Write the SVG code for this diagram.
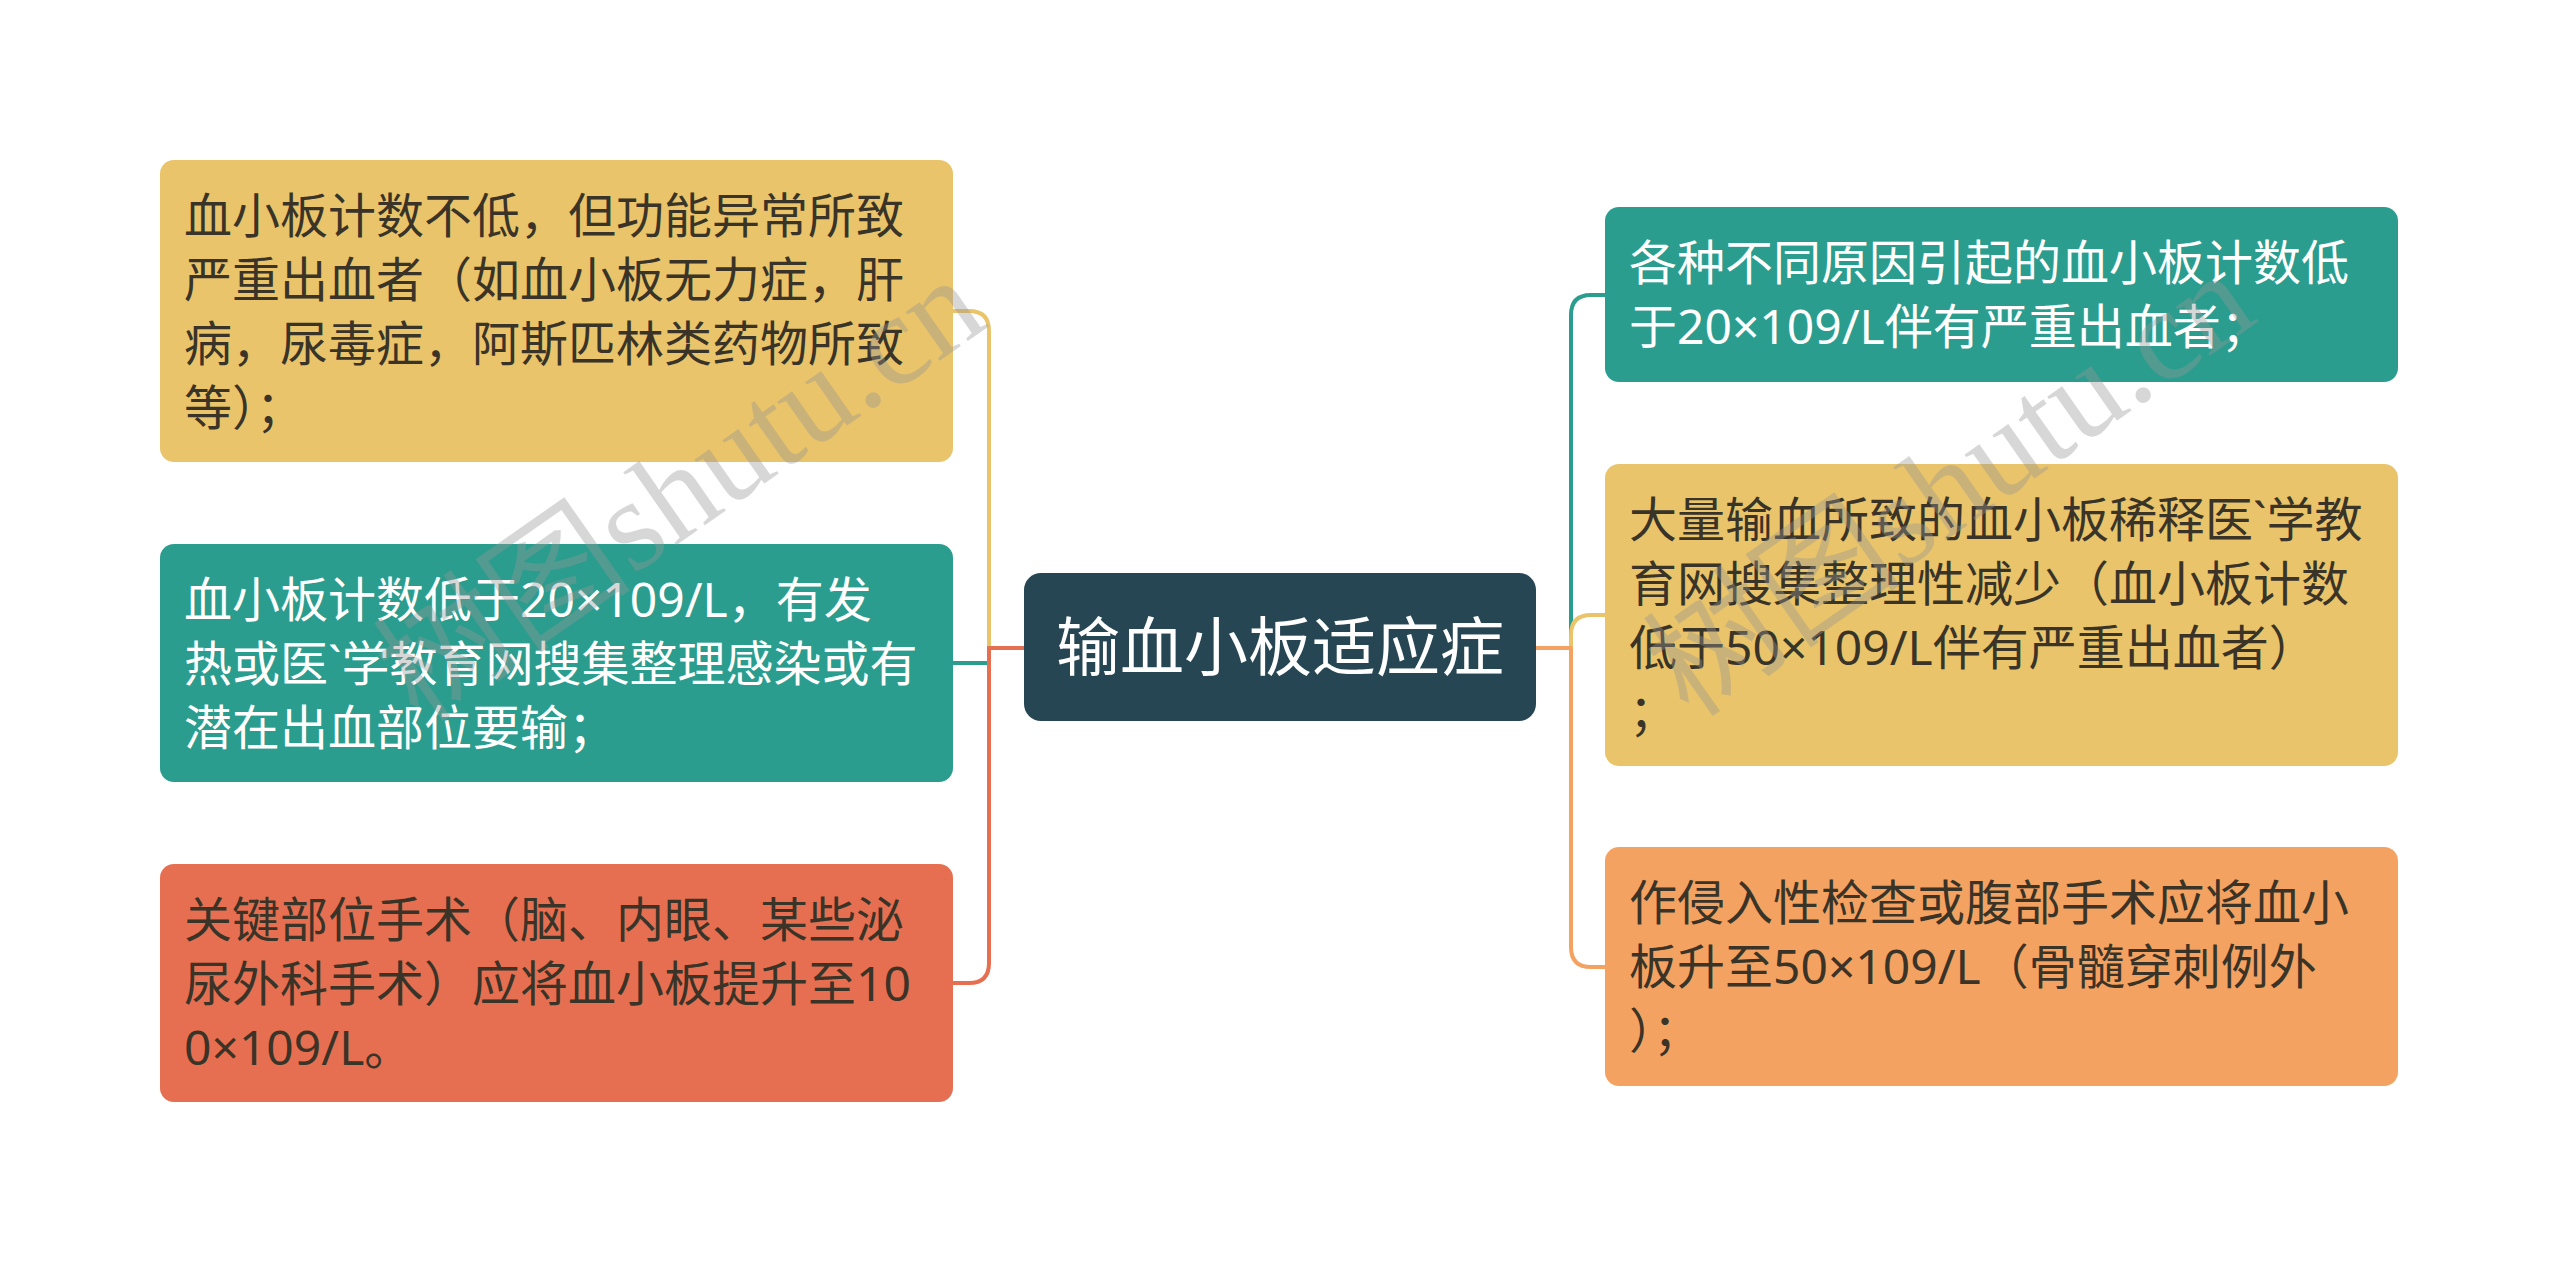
<svg xmlns="http://www.w3.org/2000/svg" width="2560" height="1264" viewBox="0 0 2560 1264">
<style>
.t{font-family:"Noto Sans","Noto Sans CJK SC","Liberation Sans",sans-serif;font-size:48px;}
.dk{fill:#3a3428;}
.wh{fill:#ffffff;}
.ct{font-family:"Noto Sans CJK SC","Liberation Sans",sans-serif;font-size:64px;fill:#ffffff;}
.c{fill:none;stroke-width:4;stroke-linejoin:round;}
.wm{font-family:"Liberation Serif","Noto Sans CJK SC",serif;font-size:130px;fill:#969696;fill-opacity:0.38;}
</style>
<rect width="2560" height="1264" fill="#ffffff"/>
<g id="connectors">
<path class="c" stroke="#E9C46A" d="M1024,648 H989 V331 Q989,311 969,311 H953"/>
<path class="c" stroke="#2A9D8F" d="M1024,648 H989 V663 H953"/>
<path class="c" stroke="#E76F51" d="M1024,648 H989 V963 Q989,983 969,983 H953"/>
<path class="c" stroke="#2A9D8F" d="M1536,648 H1571 V315 Q1571,295 1591,295 H1605"/>
<path class="c" stroke="#E9C46A" d="M1536,648 H1571 V635 Q1571,615 1591,615 H1605"/>
<path class="c" stroke="#F4A261" d="M1536,648 H1571 V947 Q1571,967 1591,967 H1605"/>
</g>
<g id="center">
<rect x="1024" y="573" width="512" height="148" rx="17" fill="#264653"/>
<text class="ct" x="1280" y="670" text-anchor="middle">输血小板适应症</text>
</g>
<g id="L1">
<rect x="160" y="160" width="793" height="302" rx="14" fill="#E9C46A"/>
<text class="t dk"><tspan x="184" y="233">血小板计数不低，但功能异常所致</tspan><tspan x="184" y="297">严重出血者（如血小板无力症，肝</tspan><tspan x="184" y="361">病，尿毒症，阿斯匹林类药物所致</tspan><tspan x="184" y="425">等）；</tspan></text>
</g>
<g id="L2">
<rect x="160" y="544" width="793" height="238" rx="14" fill="#2A9D8F"/>
<text class="t wh"><tspan x="184" y="617">血小板计数低于20×109/L，有发</tspan><tspan x="184" y="681">热或医`学教育网搜集整理感染或有</tspan><tspan x="184" y="745">潜在出血部位要输；</tspan></text>
</g>
<g id="L3">
<rect x="160" y="864" width="793" height="238" rx="14" fill="#E76F51"/>
<text class="t dk"><tspan x="184" y="937">关键部位手术（脑、内眼、某些泌</tspan><tspan x="184" y="1001">尿外科手术）应将血小板提升至10</tspan><tspan x="184" y="1065">0×109/L。</tspan></text>
</g>
<g id="R1">
<rect x="1605" y="207" width="793" height="175" rx="14" fill="#2A9D8F"/>
<text class="t wh"><tspan x="1629" y="280">各种不同原因引起的血小板计数低</tspan><tspan x="1629" y="344">于20×109/L伴有严重出血者；</tspan></text>
</g>
<g id="R2">
<rect x="1605" y="464" width="793" height="302" rx="14" fill="#E9C46A"/>
<text class="t dk"><tspan x="1629" y="537">大量输血所致的血小板稀释医`学教</tspan><tspan x="1629" y="601">育网搜集整理性减少（血小板计数</tspan><tspan x="1629" y="665">低于50×109/L伴有严重出血者）</tspan><tspan x="1629" y="729">；</tspan></text>
</g>
<g id="R3">
<rect x="1605" y="847" width="793" height="239" rx="14" fill="#F4A261"/>
<text class="t dk"><tspan x="1629" y="920">作侵入性检查或腹部手术应将血小</tspan><tspan x="1629" y="984">板升至50×109/L（骨髓穿刺例外</tspan><tspan x="1629" y="1048">）；</tspan></text>
</g>
<g id="watermarks">
<text class="wm" x="705" y="525" text-anchor="middle" transform="rotate(-35 705 525)">树图shutu.cn</text>
<text class="wm" x="1975" y="520" text-anchor="middle" transform="rotate(-35 1975 520)">树图shutu.cn</text>
</g>
</svg>
